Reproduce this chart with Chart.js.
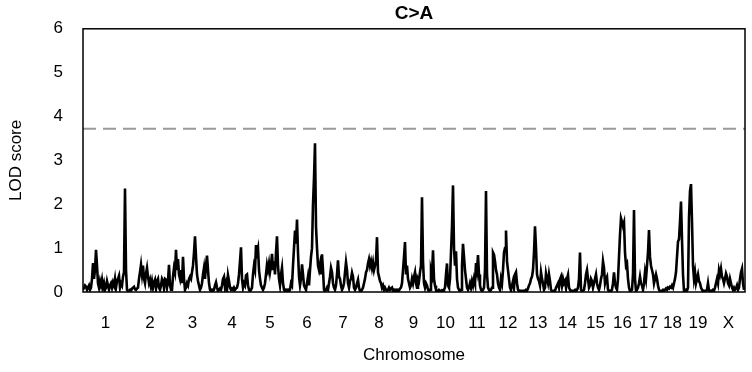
<!DOCTYPE html>
<html>
<head>
<meta charset="utf-8">
<script src="https://cdn.jsdelivr.net/npm/chart.js@4/dist/chart.umd.min.js"></script>
<style>
  body { margin: 0; background: #fff; }
</style>
</head>
<body>
<canvas id="scan" width="752" height="372"></canvas>
<script>
const chromosomes = ["1", "2", "3", "4", "5", "6", "7", "8", "9", "10",
  "11", "12", "13", "14", "15", "16", "17", "18", "19", "X"];

// LOD score at each 1 cM step along each chromosome
const lodScores = [
  // 1
  [0.05,0.1,0.15,0.12,0.05,0.1,0.15,0.05,0.1,0.3, 0.66,0.3,0.5,0.96,0.6,0.2,0.1,0.25,0.15,0.28,
   0.1,0.2,0.05,0.1,0.25,0.15,0.05,0.15,0.2,0.1, 0.22,0.15,0.3,0.1,0.25,0.3,0.37,0.1,0.2,0.15,
   0.35,0.45,2.36,0.5,0.05],
  // 2
  [0.02,0.03,0.05,0.03,0.08,0.1,0.12,0.06,0.05,0.08, 0.1,0.3,0.45,0.62,0.4,0.6,0.3,0.2,0.42,0.55,
   0.35,0.2,0.28,0.12,0.25,0.1,0.22,0.28,0.08,0.25, 0.3,0.1,0.05,0.15,0.3,0.25,0.08,0.3,0.28,0.1,
   0.25,0.62,0.15,0.05],
  // 3
  [0.05,0.35,0.55,0.45,0.96,0.5,0.75,0.4,0.3,0.5, 0.2,0.8,0.3,0.05,0.1,0.2,0.15,0.3,0.35,0.3,
   0.45,0.6,0.9,1.27,0.8,0.4,0.25,0.15,0.05,0.1, 0.2,0.4,0.55,0.3,0.6,0.83,0.5,0.2,0.05,0.02,
   0.05],
  // 4
  [0.02,0.05,0.15,0.22,0.1,0.02,0.05,0.08,0.05,0.15, 0.3,0.35,0.1,0.2,0.05,0.38,0.25,0.1,0.05,0.08,
   0.05,0.1,0.05,0.08,0.1,0.2,0.4,0.7,1.02,0.3, 0.1,0.2,0.15,0.38,0.4,0.15,0.05,0.02],
  // 5
  [0.05,0.1,0.4,0.6,0.5,1.07,0.9,1.0,0.5,0.3, 0.15,0.1,0.05,0.1,0.2,0.4,0.62,0.5,0.65,0.45,
   0.6,0.87,0.5,0.7,0.4,0.9,1.27,0.6,0.3,0.15, 0.4,0.55,0.2,0.05,0.02,0.05,0.02,0.05],
  // 6
  [0.02,0.05,0.2,0.15,0.6,1.0,1.4,1.1,1.65,0.9, 0.35,0.15,0.3,0.63,0.4,0.15,0.1,0.05,0.2,0.35,
   0.15,0.5,0.8,1.0,2.0,2.6,3.39,1.5,1.0,0.6, 0.5,0.63,0.4,0.86,0.5,0.05],
  // 7
  [0.02,0.05,0.1,0.05,0.2,0.35,0.55,0.45,0.2,0.1, 0.05,0.15,0.4,0.72,0.35,0.3,0.15,0.05,0.1,0.2,
   0.45,0.68,0.5,0.2,0.1,0.25,0.3,0.44,0.35,0.1, 0.05,0.1,0.2,0.28,0.1,0.02],
  // 8
  [0.02,0.05,0.1,0.2,0.3,0.45,0.5,0.65,0.75,0.6, 0.7,0.55,0.68,0.5,0.6,0.7,1.25,0.45,0.35,0.25,
   0.2,0.1,0.15,0.05,0.1,0.05,0.02,0.05,0.1,0.05, 0.08,0.1,0.02,0.05,0.02,0.05],
  // 9
  [0.02,0.05,0.03,0.08,0.1,0.2,0.5,0.8,1.14,0.4, 0.6,0.3,0.2,0.1,0.15,0.3,0.2,0.35,0.45,0.2,
   0.1,0.3,0.25,0.45,0.6,2.16,0.7,0.2,0.1,0.2, 0.15,0.05,0.02],
  // 10
  [0.05,0.5,0.4,0.95,0.3,0.15,0.05,0.03,0.02,0.05, 0.03,0.02,0.04,0.02,0.05,0.1,0.4,0.65,0.15,0.1,
   0.3,0.9,1.5,2.43,1.0,0.6,0.93,0.3,0.1,0.05, 0.02],
  // 11
  [0.05,0.6,1.1,0.8,0.5,0.3,0.1,0.05,0.1,0.2, 0.1,0.25,0.15,0.3,0.2,0.66,0.5,0.84,0.4,0.15,
   0.05,0.02,0.05,0.1,0.5,2.3,0.4,0.1,0.05,0.02, 0.05,0.1],
  // 12
  [0.9,0.85,0.7,0.5,0.4,0.2,0.1,0.05,0.3,0.2, 0.5,0.9,1.0,1.4,0.7,0.5,0.3,0.1,0.05,0.15,
   0.25,0.1,0.4,0.45,0.2,0.05,0.02,0.03,0.02,0.03],
  // 13
  [0.02,0.03,0.02,0.05,0.03,0.08,0.15,0.2,0.3,0.35, 0.5,0.9,1.5,1.0,0.4,0.3,0.25,0.15,0.45,0.3,
   0.2,0.05,0.1,0.42,0.3,0.2,0.4,0.25,0.05,0.02],
  // 14
  [0.02,0.03,0.02,0.1,0.15,0.2,0.1,0.29,0.35,0.15, 0.3,0.2,0.25,0.1,0.3,0.39,0.1,0.05,0.02,0.03,
   0.02,0.03,0.05,0.02,0.05,0.1,0.3,0.9,0.05],
  // 15
  [0.02,0.03,0.05,0.2,0.4,0.5,0.3,0.1,0.15,0.3, 0.25,0.1,0.2,0.3,0.4,0.2,0.1,0.05,0.15,0.3,
   0.4,0.7,0.55,0.2,0.3,0.35,0.05],
  // 16
  [0.02,0.03,0.02,0.05,0.2,0.45,0.2,0.1,0.05,0.3, 0.8,1.3,1.68,1.6,1.5,1.58,0.9,0.6,0.65,0.3,
   0.1,0.02,0.03,0.05,0.4,1.87,0.3],
  // 17
  [0.02,0.05,0.1,0.2,0.35,0.2,0.15,0.05,0.2,0.45, 0.3,0.6,0.9,1.41,0.8,0.6,0.5,0.4,0.2,0.3,
   0.4,0.3,0.15,0.05,0.02],
  // 18
  [0.02,0.03,0.05,0.03,0.05,0.08,0.05,0.1,0.08,0.12, 0.1,0.15,0.1,0.2,0.3,0.45,0.8,1.15,1.2,1.6,
   2.06,1.2,0.4],
  // 19
  [0.02,0.03,0.05,0.03,0.1,1.7,2.3,2.46,1.6,0.6, 0.3,0.45,0.2,0.3,0.4,0.25,0.2,0.1,0.05,0.02,
   0.03,0.02,0.03,0.05,0.2,0.03,0.02,0.03],
  // X
  [0.02,0.05,0.03,0.1,0.2,0.3,0.2,0.5,0.4,0.53, 0.35,0.3,0.2,0.3,0.42,0.35,0.2,0.15,0.3,0.2,
   0.1,0.05,0.1,0.05,0.08,0.15,0.05,0.1,0.3,0.45, 0.53,0.2,0.05],
];

const threshold = 3.72;
const yTicks = [0, 1, 2, 3, 4, 5, 6];

// genome-wide positions: chromosomes laid end to end
const points = [];
const centers = [];
let offset = 0;
lodScores.forEach((lods) => {
  lods.forEach((lod, i) => points.push({ x: offset + i, y: lod }));
  centers.push(offset + lods.length / 2);
  offset += lods.length;
});
const genomeLength = offset;

const frame = {
  id: "frame",
  afterDraw(chart) {
    const { ctx, chartArea: a } = chart;
    ctx.save();
    ctx.strokeStyle = "#000";
    ctx.lineWidth = 1.5;
    ctx.strokeRect(a.left, a.top, a.right - a.left, a.bottom - a.top);
    ctx.restore();
  },
};

const font = { family: "'Liberation Sans', Arial, sans-serif", size: 17 };

new Chart(document.getElementById("scan"), {
  type: "line",
  data: {
    datasets: [
      {
        label: "LOD",
        data: points,
        borderColor: "#000",
        borderWidth: 2.6,
        pointRadius: 0,
        tension: 0,
      },
      {
        label: "threshold",
        data: [{ x: 0, y: threshold }, { x: genomeLength, y: threshold }],
        borderColor: "#999",
        borderWidth: 2,
        borderDash: [13, 7],
        pointRadius: 0,
      },
    ],
  },
  options: {
    responsive: false,
    animation: false,
    layout: { padding: { left: 0, right: 7, top: 0, bottom: 0 } },
    plugins: {
      legend: { display: false },
      tooltip: { enabled: false },
      title: {
        display: true,
        text: "C>A",
        fullSize: false,
        color: "#000",
        font: { ...font, size: 19, weight: "bold" },
        padding: { top: 2, bottom: 4 },
      },
    },
    scales: {
      x: {
        type: "linear",
        min: 0,
        max: genomeLength,
        grid: { display: false },
        border: { display: false },
        afterBuildTicks: (scale) => {
          scale.ticks = centers.map((v) => ({ value: v }));
        },
        afterFit: (scale) => {
          scale.height = 80;
        },
        ticks: {
          autoSkip: false,
          maxRotation: 0,
          padding: 13,
          color: "#000",
          font: font,
          callback: (value, index) => chromosomes[index],
        },
        title: {
          display: true,
          text: "Chromosome",
          color: "#000",
          font: font,
          padding: { bottom: 6 },
        },
      },
      y: {
        min: 0,
        max: 6,
        grid: { display: false },
        border: { display: false },
        afterBuildTicks: (scale) => {
          scale.ticks = yTicks.map((v) => ({ value: v }));
        },
        afterFit: (scale) => {
          scale.width = 83;
        },
        ticks: { padding: 12, color: "#000", font: font },
        title: {
          display: true,
          text: "LOD score",
          color: "#000",
          font: font,
          padding: { top: 6 },
        },
      },
    },
  },
  plugins: [frame],
});
</script>
</body>
</html>
